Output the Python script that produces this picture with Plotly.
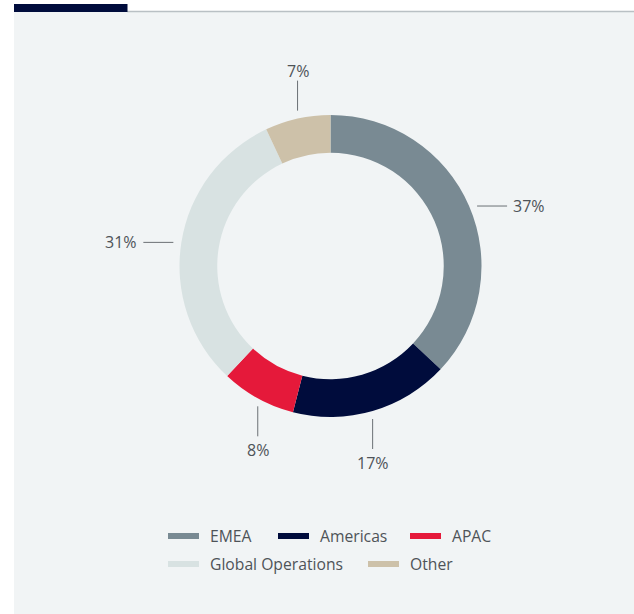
import math
import plotly.graph_objects as go

# Revenue share by region
regions = ["EMEA", "Americas", "APAC", "Global Operations", "Other"]
shares = [37, 17, 8, 31, 7]
colors = ["#798a93", "#000c3c", "#e5193a", "#d8e2e2", "#cdc1a9"]

W, H = 634, 614
CX, CY, R = 330.5, 266.0, 151.0
HOLE = 0.75
TEXT = "#4e5358"
FONT = "Open Sans"


def px(x):
    return x / W


def py(y):
    return 1 - y / H


fig = go.Figure()
fig.add_trace(go.Pie(
    labels=regions,
    values=shares,
    marker=dict(colors=colors, line=dict(width=0)),
    hole=HOLE,
    sort=False,
    direction="clockwise",
    rotation=0,
    textinfo="none",
    hoverinfo="label+percent",
    showlegend=False,
    domain=dict(x=[px(CX - R), px(CX + R)], y=[py(CY + R), py(CY - R)]),
))

shapes = [
    # panel background
    dict(type="rect", xref="paper", yref="paper", x0=px(14), x1=1, y0=0, y1=py(12),
         fillcolor="#f1f4f5", line=dict(width=0), layer="below"),
    # header rule
    dict(type="line", xref="paper", yref="paper", x0=px(127), x1=1, y0=py(11.5), y1=py(11.5),
         line=dict(color="#b9c0c4", width=1.5), layer="below"),
    dict(type="rect", xref="paper", yref="paper", x0=px(14), x1=px(127.5), y0=py(12), y1=py(4),
         fillcolor="#000c3c", line=dict(width=0), layer="below"),
]
annotations = []

# Outside percentage labels with leader lines
GAP, LEN, PAD = 8, 30, 4
total = sum(shares)
cum = 0
for name, v in zip(regions, shares):
    mid = (cum + v / 2) / total * 2 * math.pi
    cum += v
    s, c = math.sin(mid), math.cos(mid)
    label = f"{v}%"
    if abs(s) > abs(c):
        y = CY - R * c
        edge = math.sqrt(max(R * R - (y - CY) ** 2, 0))
        sign = 1 if s > 0 else -1
        x0 = CX + sign * (edge + GAP)
        x1 = x0 + sign * LEN
        shapes.append(dict(type="line", xref="paper", yref="paper",
                           x0=px(x0), x1=px(x1), y0=py(y), y1=py(y),
                           line=dict(color="#6b7075", width=1)))
        annotations.append(dict(x=px(x1 + sign * PAD), y=py(y), xref="paper", yref="paper",
                                text=label, showarrow=False,
                                xanchor="left" if sign > 0 else "right", yanchor="middle",
                                font=dict(family=FONT, size=16, color=TEXT)))
    else:
        x = CX + R * s
        edge = math.sqrt(max(R * R - (x - CX) ** 2, 0))
        sign = 1 if c < 0 else -1  # downward in pixel space when below centre
        y0 = CY + sign * (edge + GAP)
        y1 = y0 + sign * LEN
        shapes.append(dict(type="line", xref="paper", yref="paper",
                           x0=px(x), x1=px(x), y0=py(y0), y1=py(y1),
                           line=dict(color="#6b7075", width=1)))
        ty = y1 + 1 if sign > 0 else y1 + 3
        annotations.append(dict(x=px(x), y=py(ty), xref="paper", yref="paper",
                                text=label, showarrow=False,
                                xanchor="center", yanchor="top" if sign > 0 else "bottom",
                                font=dict(family=FONT, size=16, color=TEXT)))

# Legend: two rows of line swatches with labels
legend_rows = [([0, 1, 2], 536, [168, 278, 410]), ([3, 4], 564, [168, 368])]
for idxs, ly, xs in legend_rows:
    for i, lx in zip(idxs, xs):
        shapes.append(dict(type="rect", xref="paper", yref="paper",
                           x0=px(lx), x1=px(lx + 31), y0=py(ly + 3), y1=py(ly - 3),
                           fillcolor=colors[i], line=dict(width=0)))
        annotations.append(dict(x=px(lx + 40), y=py(ly), xref="paper", yref="paper",
                                text=regions[i], showarrow=False,
                                xanchor="left", yanchor="middle",
                                font=dict(family=FONT, size=15.7, color=TEXT)))

fig.update_layout(
    width=W, height=H,
    margin=dict(l=0, r=0, t=0, b=0),
    paper_bgcolor="white",
    plot_bgcolor="white",
    shapes=shapes,
    annotations=annotations,
    showlegend=False,
)

fig.write_html("out.html")
